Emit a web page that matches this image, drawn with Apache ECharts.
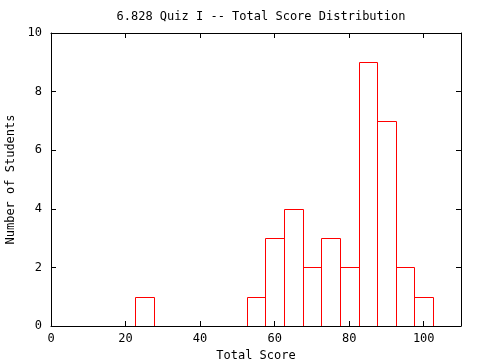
<!DOCTYPE html>
<html>
<head>
<meta charset="utf-8">
<script src="https://cdn.jsdelivr.net/npm/echarts@6/dist/echarts.min.js"></script>
<style>html,body{margin:0;padding:0;background:#fff}#c{width:480px;height:360px}</style>
</head>
<body>
<div id="c"></div>
<script>
const binCenters = [0,5,10,15,20,25,30,35,40,45,50,55,60,65,70,75,80,85,90,95,100];
const counts     = [0,0,0,0,0,1,0,0,0,0,0,1,3,4,2,3,2,9,7,2,1];
const binWidth = 5;
const xTicks = [0,20,40,60,80,100];
const yTicks = [0,2,4,6,8,10];

const FONT = 'DejaVu Sans Mono';
const chart = echarts.init(document.getElementById('c'), null, {renderer:'canvas'});
const data = binCenters.map((c,i)=>[c, counts[i]]);
function axisCommon(){
  return {
    axisLine:{show:true, onZero:false, lineStyle:{color:'#000', width:1}},
    axisTick:{show:true, inside:true, length:5, lineStyle:{color:'#000', width:1}},
    splitLine:{show:false}
  };
}
chart.setOption({
  animation:false,
  backgroundColor:'#fff',
  color:['#ff0000'],
  title:{text:'6.828 Quiz I -- Total Score Distribution', left:256, top:6, textAlign:'center',
    textStyle:{fontFamily:FONT, fontSize:12, fontWeight:'normal', color:'#000'}},
  grid:{left:51, right:19, top:33, bottom:34, containLabel:false, outerBoundsMode:'none'},
  xAxis:[
    Object.assign({type:'value', min:0, max:110, interval:20, position:'bottom',
      name:'Total Score', nameLocation:'middle', nameGap:21,
      nameTextStyle:{fontFamily:FONT, fontSize:12, color:'#000'},
      axisLabel:{fontFamily:FONT, fontSize:12, color:'#000', margin:7, showMaxLabel:false,
        formatter:v=>xTicks.includes(v)?String(v):''}}, axisCommon()),
    Object.assign({type:'value', min:0, max:110, interval:20, position:'top',
      axisLabel:{show:false}}, axisCommon())
  ],
  yAxis:[
    Object.assign({type:'value', min:0, max:10, interval:2, position:'left',
      name:'Number of Students', nameLocation:'middle', nameGap:34,
      nameTextStyle:{fontFamily:FONT, fontSize:12, color:'#000'},
      axisLabel:{fontFamily:FONT, fontSize:12, color:'#000', margin:9,
        formatter:v=>yTicks.includes(v)?String(v):''}}, axisCommon()),
    Object.assign({type:'value', min:0, max:10, interval:2, position:'right',
      axisLabel:{show:false}}, axisCommon())
  ],
  series:[{
    type:'custom',
    clip:true,
    z:5,
    xAxisIndex:0,
    yAxisIndex:0,
    itemStyle:{color:'#ff0000', borderColor:'#ff0000'},
    data:data,
    renderItem:function(params, api){
      const x = api.value(0), y = api.value(1);
      const p0 = api.coord([x-binWidth/2, 0]);
      const p1 = api.coord([x+binWidth/2, y]);
      const x0 = Math.round(p0[0])+0.5, x1 = Math.round(p1[0])+0.5;
      const y0 = Math.round(p0[1])+0.5, y1 = Math.round(p1[1])+0.5;
      return {type:'polyline', shape:{points:[[x0,y0],[x0,y1],[x1,y1],[x1,y0],[x0,y0]]},
        style:{fill:null, stroke:'#ff0000', lineWidth:1}};
    }
  }]
});
</script>
</body>
</html>
